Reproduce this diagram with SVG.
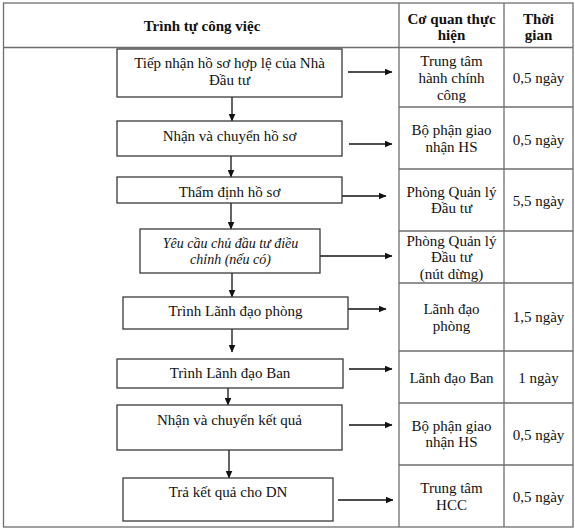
<svg xmlns="http://www.w3.org/2000/svg" width="575" height="532" viewBox="0 0 575 532">
<defs>
<marker id="ah" markerWidth="8" markerHeight="7" refX="7.5" refY="3.5" orient="auto" markerUnits="userSpaceOnUse">
<path d="M0,0 L8,3.5 L0,7 Z" fill="#111"/>
</marker>
<style>
text{font-family:"Liberation Serif","Times New Roman",serif;font-size:15px;fill:#111;text-anchor:middle}
.h{font-weight:bold}
.i{font-style:italic}
.tl{stroke:#6e6e6e;stroke-width:1.3;fill:none}
.bx{fill:#fff;stroke:#3a3a3a;stroke-width:1.3}
.c{stroke:#111;stroke-width:1.3;fill:none;marker-end:url(#ah)}
</style>
</defs>
<rect width="575" height="532" fill="#fff"/>
<g id="table">
<rect class="tl" x="3.5" y="3" width="569.5" height="524"/>
<line class="tl" x1="3.5" y1="47.5" x2="573" y2="47.5"/>
<line class="tl" x1="399" y1="3" x2="399" y2="527"/>
<line class="tl" x1="504" y1="3" x2="504" y2="527"/>
<line class="tl" x1="399" y1="107" x2="573" y2="107"/>
<line class="tl" x1="399" y1="169" x2="573" y2="169"/>
<line class="tl" x1="399" y1="231" x2="573" y2="231"/>
<line class="tl" x1="399" y1="283" x2="573" y2="283"/>
<line class="tl" x1="399" y1="351" x2="573" y2="351"/>
<line class="tl" x1="399" y1="403" x2="573" y2="403"/>
<line class="tl" x1="399" y1="465" x2="573" y2="465"/>
<text class="h" x="202" y="31">Trình tự công việc</text>
<text class="h" x="451.5" y="24">Cơ quan thực</text>
<text class="h" x="451.5" y="40">hiện</text>
<text class="h" x="538.5" y="24">Thời</text>
<text class="h" x="538.5" y="40">gian</text>
<text x="451.5" y="66">Trung tâm</text>
<text x="451.5" y="83">hành chính</text>
<text x="451.5" y="100">công</text>
<text x="538.5" y="83">0,5 ngày</text>
<text x="451.5" y="135">Bộ phận giao</text>
<text x="451.5" y="152">nhận HS</text>
<text x="538.5" y="145">0,5 ngày</text>
<text x="451.5" y="197">Phòng Quản lý</text>
<text x="451.5" y="213">Đầu tư</text>
<text x="538.5" y="206">5,5 ngày</text>
<text x="451.5" y="246">Phòng Quản lý</text>
<text x="451.5" y="262">Đầu tư</text>
<text x="451.5" y="279">(nút dừng)</text>
<text x="451.5" y="314">Lãnh đạo</text>
<text x="451.5" y="331">phòng</text>
<text x="538.5" y="322">1,5 ngày</text>
<text x="451.5" y="383">Lãnh đạo Ban</text>
<text x="538.5" y="383">1 ngày</text>
<text x="451.5" y="431">Bộ phận giao</text>
<text x="451.5" y="447">nhận HS</text>
<text x="538.5" y="440">0,5 ngày</text>
<text x="451.5" y="493">Trung tâm</text>
<text x="451.5" y="510">HCC</text>
<text x="538.5" y="502">0,5 ngày</text>
</g>
<g id="connectors">
<line class="c" x1="232" y1="97" x2="232" y2="121"/>
<line class="c" x1="231" y1="156" x2="231" y2="177"/>
<line class="c" x1="231" y1="203" x2="231" y2="229"/>
<line class="c" x1="232" y1="273" x2="232" y2="297"/>
<line class="c" x1="232" y1="329" x2="232" y2="352"/>
<line class="c" x1="228" y1="388" x2="228" y2="405"/>
<line class="c" x1="229" y1="450" x2="229" y2="478"/>
<line class="c" x1="348" y1="72" x2="392" y2="72"/>
<line class="c" x1="349" y1="144" x2="392" y2="144"/>
<line class="c" x1="342" y1="196" x2="386" y2="196"/>
<line class="c" x1="320" y1="256" x2="392" y2="256"/>
<line class="c" x1="343" y1="309" x2="386" y2="309"/>
<line class="c" x1="349" y1="369" x2="392" y2="369"/>
<line class="c" x1="349" y1="425" x2="392" y2="425"/>
<line class="c" x1="338" y1="500" x2="393" y2="500"/>
</g>
<g id="n1">
<rect class="bx" x="117" y="49" width="225" height="48"/>
<text x="229.5" y="68">Tiếp nhận hồ sơ hợp lệ của Nhà</text>
<text x="229.5" y="85">Đầu tư</text>
</g>
<g id="n2">
<rect class="bx" x="117" y="121" width="225" height="35"/>
<text x="229.5" y="141">Nhận và chuyển hồ sơ</text>
</g>
<g id="n3">
<rect class="bx" x="117" y="177" width="225" height="26"/>
<text x="229.5" y="197">Thẩm định hồ sơ</text>
</g>
<g id="n4">
<rect class="bx" x="140" y="229" width="180" height="44"/>
<text class="i" x="230.5" y="248" style="font-size:14px">Yêu cầu chủ đầu tư điều</text>
<text class="i" x="230.5" y="264" style="font-size:14px">chỉnh (nếu có)</text>
</g>
<g id="n5">
<rect class="bx" x="123" y="297" width="225" height="32"/>
<text x="235.5" y="316">Trình Lãnh đạo phòng</text>
</g>
<g id="n6">
<rect class="bx" x="117" y="359" width="226" height="29"/>
<text x="230" y="378">Trình Lãnh đạo Ban</text>
</g>
<g id="n7">
<rect class="bx" x="117" y="405" width="225" height="45"/>
<text x="229.5" y="425">Nhận và chuyển kết quả</text>
</g>
<g id="n8">
<rect class="bx" x="123" y="478" width="210" height="43"/>
<text x="228" y="497">Trả kết quả cho DN</text>
</g>
</svg>
